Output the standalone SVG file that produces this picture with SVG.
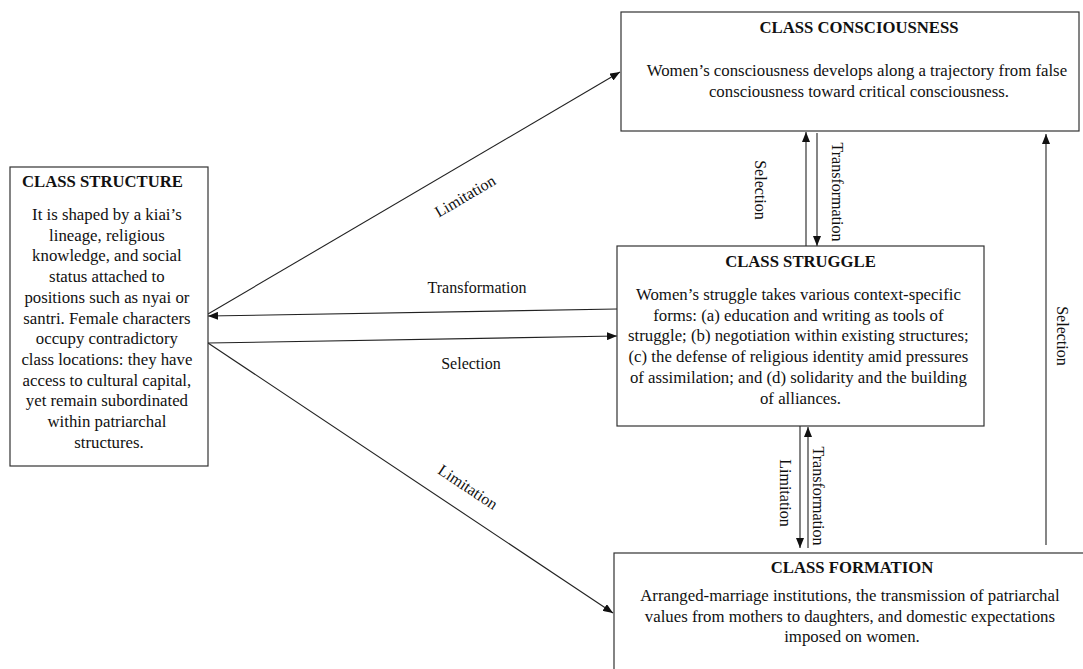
<svg xmlns="http://www.w3.org/2000/svg" width="1083" height="669" viewBox="0 0 1083 669">
<defs>
<style>
.box{fill:#fff;stroke:#333;stroke-width:1.2}
.title{font-family:"Liberation Serif","Times New Roman",serif;font-weight:bold;font-size:16.7px;fill:#111}
.body{font-family:"Liberation Serif","Times New Roman",serif;font-size:16.8px;fill:#111}
.lbl{font-family:"Liberation Serif","Times New Roman",serif;font-size:16px;fill:#111}
.con{stroke:#222;stroke-width:1.1;fill:none;marker-end:url(#ah)}
</style>
<marker id="ah" viewBox="0 0 10 8" refX="10" refY="4" markerWidth="10" markerHeight="8" markerUnits="userSpaceOnUse" orient="auto">
<path d="M0,0 L10,4 L0,8 z" fill="#111"/>
</marker>
</defs>
<rect width="1083" height="669" fill="#fff"/>

<g id="connectors">
<line class="con" x1="208" y1="314" x2="620" y2="72"/>
<line class="con" x1="617" y1="309" x2="208" y2="316"/>
<line class="con" x1="208" y1="343" x2="617" y2="336"/>
<line class="con" x1="208" y1="343" x2="613" y2="613"/>
<line class="con" x1="806" y1="246" x2="806" y2="132"/>
<line class="con" x1="817" y1="133" x2="817" y2="246"/>
<line class="con" x1="800" y1="426" x2="800" y2="548"/>
<line class="con" x1="808" y1="548" x2="808" y2="427"/>
<line class="con" x1="1046" y1="545" x2="1046" y2="134"/>
<text class="lbl" x="465" y="196" text-anchor="middle" dominant-baseline="central" transform="rotate(-30.4 465 196)">Limitation</text>
<text class="lbl" x="477" y="293" text-anchor="middle">Transformation</text>
<text class="lbl" x="471" y="369" text-anchor="middle">Selection</text>
<text class="lbl" x="468" y="487" text-anchor="middle" dominant-baseline="central" transform="rotate(33.7 468 487)">Limitation</text>
<text class="lbl" x="760" y="190" text-anchor="middle" dominant-baseline="central" transform="rotate(90 760 190)">Selection</text>
<text class="lbl" x="837" y="192" text-anchor="middle" dominant-baseline="central" transform="rotate(90 837 192)">Transformation</text>
<text class="lbl" x="785" y="493" text-anchor="middle" dominant-baseline="central" transform="rotate(90 785 493)">Limitation</text>
<text class="lbl" x="818" y="496" text-anchor="middle" dominant-baseline="central" transform="rotate(90 818 496)">Transformation</text>
<text class="lbl" x="1062" y="336" text-anchor="middle" dominant-baseline="central" transform="rotate(90 1062 336)">Selection</text>
</g>

<g id="class-structure">
<rect class="box" x="10" y="167" width="198" height="299"/>
<text class="title" x="22" y="187">CLASS STRUCTURE</text>
<text class="body" text-anchor="middle">
<tspan x="109" y="220">It is shaped by a kiai’s</tspan>
<tspan x="109" y="240.7">lineage, religious</tspan>
<tspan x="109" y="261.4">knowledge, and social</tspan>
<tspan x="109" y="282.1">status attached to</tspan>
<tspan x="109" y="302.8">positions such as nyai or</tspan>
<tspan x="109" y="323.5">santri. Female characters</tspan>
<tspan x="109" y="344.2">occupy contradictory</tspan>
<tspan x="109" y="364.9">class locations: they have</tspan>
<tspan x="109" y="385.6">access to cultural capital,</tspan>
<tspan x="109" y="406.3">yet remain subordinated</tspan>
<tspan x="109" y="427">within patriarchal</tspan>
<tspan x="109" y="447.7">structures.</tspan>
</text>
</g>

<g id="class-consciousness">
<rect class="box" x="621" y="12" width="458" height="119"/>
<text class="title" x="859" y="33" text-anchor="middle">CLASS CONSCIOUSNESS</text>
<text class="body" text-anchor="middle">
<tspan x="859" y="76">Women’s consciousness develops along a trajectory from false</tspan>
<tspan x="859" y="97">consciousness toward critical consciousness.</tspan>
</text>
</g>

<g id="class-struggle">
<rect class="box" x="617" y="246" width="367" height="180"/>
<text class="title" x="800.5" y="267" text-anchor="middle">CLASS STRUGGLE</text>
<text class="body" text-anchor="middle">
<tspan x="800.5" y="300">Women’s struggle takes various context-specific</tspan>
<tspan x="800.5" y="320.7">forms: (a) education and writing as tools of</tspan>
<tspan x="800.5" y="341.4">struggle; (b) negotiation within existing structures;</tspan>
<tspan x="800.5" y="362.1">(c) the defense of religious identity amid pressures</tspan>
<tspan x="800.5" y="382.8">of assimilation; and (d) solidarity and the building</tspan>
<tspan x="800.5" y="403.5">of alliances.</tspan>
</text>
</g>

<g id="class-formation">
<rect class="box" x="614" y="553" width="476" height="130"/>
<text class="title" x="852" y="573" text-anchor="middle">CLASS FORMATION</text>
<text class="body" text-anchor="middle">
<tspan x="852" y="601">Arranged-marriage institutions, the transmission of patriarchal</tspan>
<tspan x="852" y="621.7">values from mothers to daughters, and domestic expectations</tspan>
<tspan x="852" y="642.4">imposed on women.</tspan>
</text>
</g>
</svg>
